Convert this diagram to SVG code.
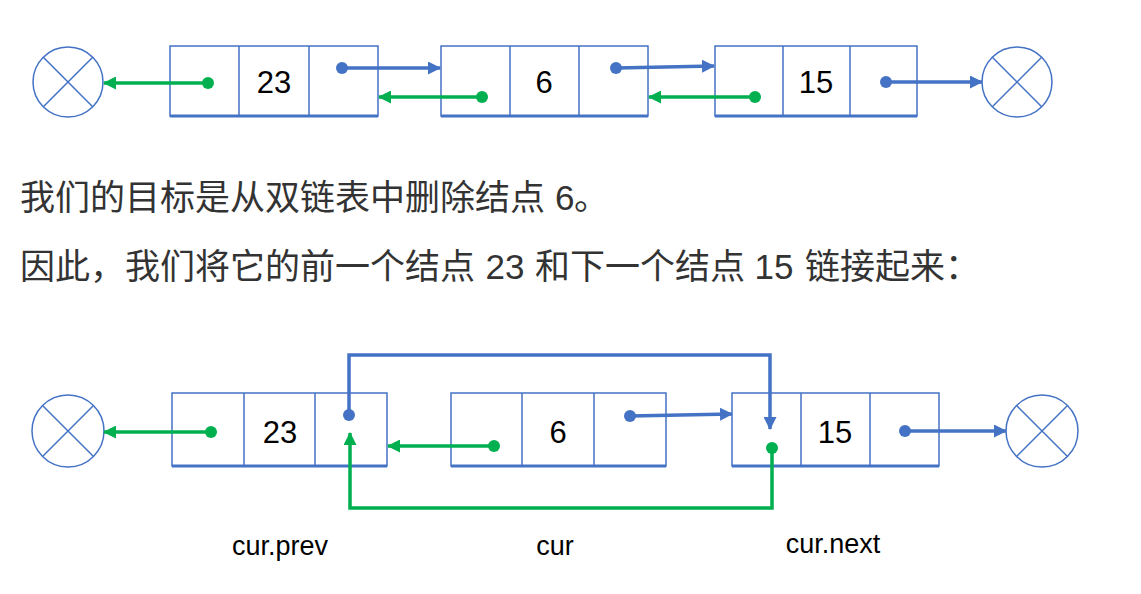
<svg xmlns="http://www.w3.org/2000/svg" width="1141" height="594" viewBox="0 0 1141 594">
<style>
.box{fill:#fff;stroke:#4472C4;stroke-width:1.5}
.bot{stroke:#4472C4;stroke-width:3}
.div{stroke:#4472C4;stroke-width:1.5}
.null{fill:#fff;stroke:#4472C4;stroke-width:1.5}
.num{font-family:"Liberation Sans",Arial,sans-serif;font-size:31px;fill:#000;text-anchor:middle}
.lbl{font-family:"Liberation Sans",Arial,sans-serif;font-size:27px;fill:#000;text-anchor:middle}
.cn{font-family:"Noto Sans CJK SC","Noto Sans",sans-serif;font-size:35px;fill:#333}
.dg{font-family:"Liberation Sans",Arial,sans-serif}
.b{fill:none;stroke:#4472C4;stroke-width:3.5}
.g{fill:none;stroke:#00B050;stroke-width:3.5}
.bd{fill:#4472C4}
.gd{fill:#00B050}
</style>
<defs>
<marker id="ab" markerUnits="userSpaceOnUse" markerWidth="13" markerHeight="13" refX="12" refY="6.5" orient="auto"><path d="M0,0 L13,6.5 L0,13 z" fill="#4472C4"/></marker>
<marker id="ag" markerUnits="userSpaceOnUse" markerWidth="13" markerHeight="13" refX="12" refY="6.5" orient="auto"><path d="M0,0 L13,6.5 L0,13 z" fill="#00B050"/></marker>
</defs>
<rect width="1141" height="594" fill="#fff"/>

<!-- top row -->
<g id="null-top-left"><circle class="null" cx="68" cy="82" r="35"/><path class="div" d="M43.3,57.3 L92.7,106.7 M92.7,57.3 L43.3,106.7"/></g>
<g id="node-top-23"><rect class="box" x="170" y="46" width="208" height="70"/><path class="div" d="M239,46 V116 M309,46 V116"/><path class="bot" d="M170,116 H378"/><text class="num" x="274" y="93">23</text></g>
<g id="node-top-6"><rect class="box" x="441" y="46" width="207" height="70"/><path class="div" d="M510,46 V116 M579,46 V116"/><path class="bot" d="M441,116 H648"/><text class="num" x="544" y="93">6</text></g>
<g id="node-top-15"><rect class="box" x="715" y="46" width="202" height="70"/><path class="div" d="M783,46 V116 M850,46 V116"/><path class="bot" d="M715,116 H917"/><text class="num" x="816" y="93">15</text></g>
<g id="null-top-right"><circle class="null" cx="1017" cy="82" r="35"/><path class="div" d="M992.3,57.3 L1041.7,106.7 M1041.7,57.3 L992.3,106.7"/></g>

<!-- text -->
<text class="cn" y="210"><tspan x="20">我们的目标是从双链表中删除结点</tspan><tspan class="dg" x="555">6</tspan><tspan x="574">。</tspan></text>
<text class="cn" y="279"><tspan x="20">因此，我们将它的前一个结点</tspan><tspan class="dg" x="485.5">23</tspan><tspan x="535">和下一个结点</tspan><tspan class="dg" x="754.5">15</tspan><tspan x="805">链接起来：</tspan></text>

<!-- bottom row -->
<g id="null-bot-left"><circle class="null" cx="68" cy="431" r="36"/><path class="div" d="M42.5,405.5 L93.5,456.5 M93.5,405.5 L42.5,456.5"/></g>
<g id="node-bot-23"><rect class="box" x="172" y="393" width="215" height="73"/><path class="div" d="M244,393 V466 M315,393 V466"/><path class="bot" d="M172,466 H387"/><text class="num" x="280" y="443">23</text></g>
<g id="node-bot-6"><rect class="box" x="451" y="393" width="215" height="73"/><path class="div" d="M522,393 V466 M594,393 V466"/><path class="bot" d="M451,466 H666"/><text class="num" x="558" y="443">6</text></g>
<g id="node-bot-15"><rect class="box" x="732" y="393" width="207" height="73"/><path class="div" d="M801,393 V466 M870,393 V466"/><path class="bot" d="M732,466 H939"/><text class="num" x="835" y="443">15</text></g>
<g id="null-bot-right"><circle class="null" cx="1042" cy="431" r="36"/><path class="div" d="M1016.5,405.5 L1067.5,456.5 M1067.5,405.5 L1016.5,456.5"/></g>

<g id="labels">
<text class="lbl" x="280" y="555">cur.prev</text>
<text class="lbl" x="555" y="555">cur</text>
<text class="lbl" x="833" y="553">cur.next</text>
</g>

<g id="connectors">
<path class="g" d="M208,83 H104" marker-end="url(#ag)"/><circle class="gd" cx="208" cy="83" r="6"/>
<path class="b" d="M342,68 H440" marker-end="url(#ab)"/><circle class="bd" cx="342" cy="68" r="6"/>
<path class="g" d="M482,97 H379" marker-end="url(#ag)"/><circle class="gd" cx="482" cy="97" r="6"/>
<path class="b" d="M616,68 L714,66" marker-end="url(#ab)"/><circle class="bd" cx="616" cy="68" r="6"/>
<path class="g" d="M755,97 H649" marker-end="url(#ag)"/><circle class="gd" cx="755" cy="97" r="6"/>
<path class="b" d="M886,82 H982" marker-end="url(#ab)"/><circle class="bd" cx="886" cy="82" r="6"/>

<path class="g" d="M211,432 H104" marker-end="url(#ag)"/><circle class="gd" cx="211" cy="432" r="6"/>
<path class="b" d="M349,415 V355 H770 V429" marker-end="url(#ab)"/><circle class="bd" cx="349" cy="415" r="6"/>
<path class="g" d="M772,448 V508 H350 V433" marker-end="url(#ag)"/><circle class="gd" cx="772" cy="448" r="6"/>
<path class="g" d="M494,446 H388" marker-end="url(#ag)"/><circle class="gd" cx="494" cy="446" r="6"/>
<path class="b" d="M630,416 L732,414" marker-end="url(#ab)"/><circle class="bd" cx="630" cy="416" r="6"/>
<path class="b" d="M905,431 H1006" marker-end="url(#ab)"/><circle class="bd" cx="905" cy="431" r="6"/>
</g>
</svg>
